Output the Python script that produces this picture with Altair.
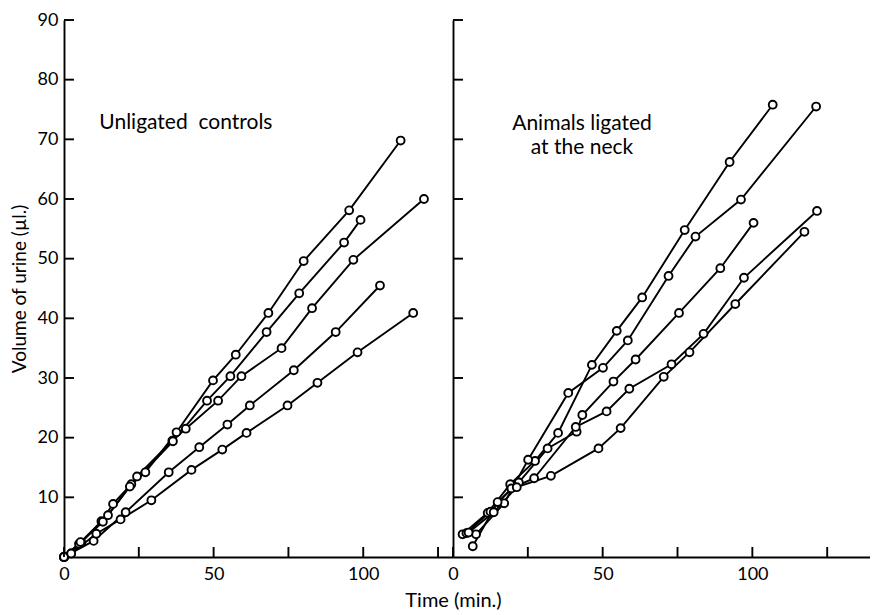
import altair as alt
import pandas as pd

# ---------------- data ----------------
# Left panel: unligated controls (time in min, volume in µl)
L1_t = [0, 2.4, 5.8, 12.5, 16.4, 22.5, 27.2, 37.6, 49.8, 57.4, 68.3, 80.1, 95.3, 112.5]
L1_v = [0, 0.6, 2.4, 6.0, 8.9, 12.2, 14.2, 20.9, 29.6, 33.9, 40.9, 49.6, 58.1, 69.8]
L2_t = [0, 5.0, 13.0, 24.4, 36.2, 40.7, 51.5, 59.3, 72.7, 82.9, 96.7, 120.3]
L2_v = [0, 2.2, 5.9, 13.5, 19.5, 21.5, 26.2, 30.3, 35.0, 41.7, 49.8, 60.0]
L3_t = [0, 5.5, 14.7, 22.0, 36.4, 47.8, 55.6, 67.7, 78.6, 93.6, 99.1]
L3_v = [0, 2.5, 7.0, 11.8, 19.4, 26.2, 30.3, 37.7, 44.2, 52.7, 56.5]
L4_t = [0, 9.9, 20.6, 35.0, 45.2, 54.6, 62.1, 76.8, 90.8, 105.6]
L4_v = [0, 2.7, 7.5, 14.2, 18.4, 22.2, 25.4, 31.3, 37.7, 45.5]
L5_t = [0, 2.4, 10.8, 18.9, 29.2, 42.6, 52.9, 61.0, 74.7, 84.7, 98.1, 116.7]
L5_v = [0, 0.6, 3.9, 6.3, 9.5, 14.6, 18.0, 20.8, 25.4, 29.2, 34.3, 40.9]

# Right panel: animals ligated at the neck
R1_t = [3.2, 11.6, 19.1, 27.4, 35.1, 46.4, 54.7, 63.2, 77.4, 92.4, 106.8]
R1_v = [3.8, 7.4, 12.2, 16.1, 20.8, 32.2, 37.9, 43.5, 54.8, 66.2, 75.8]
R2_t = [7.7, 17.1, 25.1, 38.5, 50.1, 58.4, 72.0, 81.0, 96.2, 121.3]
R2_v = [3.8, 9.0, 16.3, 27.5, 31.7, 36.3, 47.1, 53.7, 59.9, 75.5]
R3_t = [6.6, 14.9, 22.0, 31.6, 41.3, 43.2, 53.6, 61.0, 75.5, 89.3, 100.4]
R3_v = [1.8, 9.2, 12.5, 18.2, 21.0, 23.8, 29.4, 33.1, 40.9, 48.4, 56.0]
R4_t = [4.5, 12.5, 19.5, 27.1, 41.0, 51.3, 58.9, 73.0, 83.7, 97.2, 121.6]
R4_v = [4.0, 7.6, 11.5, 13.2, 21.8, 24.4, 28.2, 32.3, 37.4, 46.8, 58.0]
R5_t = [5.2, 13.6, 21.3, 32.7, 48.6, 56.0, 70.4, 79.0, 94.3, 117.4]
R5_v = [4.1, 7.5, 11.7, 13.6, 18.2, 21.6, 30.2, 34.3, 42.4, 54.5]

Y_TICKS = [10, 20, 30, 40, 50, 60, 70, 80, 90]
X_TICKS = [0, 25, 50, 75, 100, 125]
X_LABELS = [0, 50, 100]

LEFT_TEXT = ["Unligated\u00a0 controls"]
LEFT_TEXT_T = [11.8]
LEFT_TEXT_V = [72.8]
RIGHT_TEXT = ["Animals ligated", "at the neck"]
RIGHT_TEXT_T = [43.1, 43.1]
RIGHT_TEXT_V = [72.6, 68.6]

Y_TITLE = "Volume of urine (µl.)"
X_TITLE = "Time (min.)"

# ---------------- build tables ----------------
def make_df(series, prefix):
    rows = []
    for i, (ts, vs) in enumerate(series):
        for j, (a, b) in enumerate(zip(ts, vs)):
            rows.append({"series": f"{prefix}{i + 1}", "t": a, "v": b, "idx": j})
    return pd.DataFrame(rows)

left_df = make_df([(L1_t, L1_v), (L2_t, L2_v), (L3_t, L3_v), (L4_t, L4_v), (L5_t, L5_v)], "L")
right_df = make_df([(R1_t, R1_v), (R2_t, R2_v), (R3_t, R3_v), (R4_t, R4_v), (R5_t, R5_v)], "R")

FONT = "Lato"
H = 537
W1 = 389
W2 = 417
SW = 1.9
TICK_LEN = 10


def panel(df, xmax, width, y_axis, x_axis, texts, text_align):
    xs = alt.Scale(domain=[0, xmax], nice=False, zero=False)
    ys = alt.Scale(domain=[0, 90], nice=False, zero=False)
    base = alt.Chart(df)
    lines = base.mark_line(color="black", strokeWidth=SW).encode(
        x=alt.X("t:Q", scale=xs, axis=x_axis),
        y=alt.Y("v:Q", scale=ys, axis=y_axis),
        detail="series:N",
        order="idx:Q",
    )
    pts = base.mark_point(
        shape="circle", filled=True, fill="white", stroke="black",
        strokeWidth=SW, size=62, opacity=1
    ).encode(x=alt.X("t:Q", scale=xs), y=alt.Y("v:Q", scale=ys))
    yt = alt.Chart(pd.DataFrame({"v": Y_TICKS})).mark_rule(
        color="black", strokeWidth=SW
    ).encode(y=alt.Y("v:Q", scale=ys), x=alt.value(0), x2=alt.value(TICK_LEN))
    xt = alt.Chart(pd.DataFrame({"t": X_TICKS})).mark_rule(
        color="black", strokeWidth=SW
    ).encode(x=alt.X("t:Q", scale=xs), y=alt.value(H), y2=alt.value(H - TICK_LEN))
    txt = alt.Chart(pd.DataFrame(texts)).mark_text(
        font=FONT, fontSize=21, color="black", align=text_align, baseline="middle"
    ).encode(x=alt.X("t:Q", scale=xs), y=alt.Y("v:Q", scale=ys), text="label:N")
    return alt.layer(lines, pts, yt, xt, txt).properties(width=width, height=H)


common_axis = dict(
    grid=False, ticks=False, domainColor="black", domainWidth=SW,
    labelFont=FONT, labelFontSize=18, labelColor="black",
    titleFont=FONT, titleFontWeight="normal", titleColor="black",
)

left_y = alt.Axis(values=Y_TICKS, labelPadding=6, title=Y_TITLE, titleFontSize=19,
                  titlePadding=8, **common_axis)
right_y = alt.Axis(labels=False, title=None, minExtent=0, maxExtent=0, **common_axis)
left_x = alt.Axis(values=X_LABELS, labelPadding=8, title=None, labelFlush=False, **common_axis)
right_x = alt.Axis(
    values=X_LABELS, labelPadding=8, labelFlush=False, title=X_TITLE, titleFontSize=20,
    titleAnchor="start", titleX=0, titleAlign="center", titleY=43,
    titleBaseline="middle", **common_axis
)

left = panel(
    left_df, 130, W1, left_y, left_x,
    {"label": LEFT_TEXT, "t": LEFT_TEXT_T, "v": LEFT_TEXT_V}, "left",
)
right = panel(
    right_df, 139.3, W2, right_y, right_x,
    {"label": RIGHT_TEXT, "t": RIGHT_TEXT_T, "v": RIGHT_TEXT_V}, "center",
)

chart = (
    alt.hconcat(left, right, spacing=0, bounds="flush")
    .resolve_scale(x="independent", y="independent")
    .properties(padding={"left": 2, "top": 3, "right": 0, "bottom": 0}, background="white")
    .configure_view(stroke=None)
)

chart.save("out.html", embed_options={"renderer": "svg", "actions": False})
